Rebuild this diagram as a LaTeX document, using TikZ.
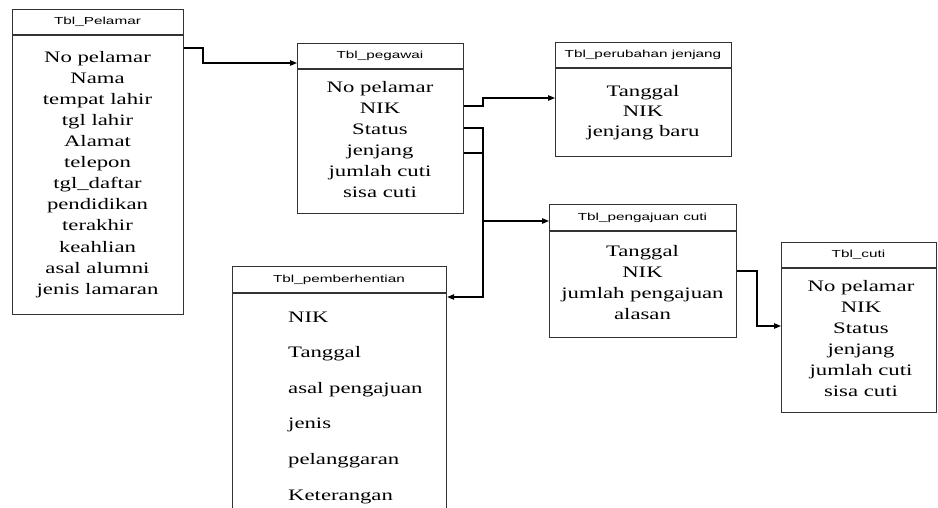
\documentclass[tikz,border=0pt]{standalone}
\usepackage{fontspec}
\setmainfont{Liberation Serif}
\setsansfont{Liberation Sans}
\usepackage{graphicx}
\usetikzlibrary{arrows.meta}
\newcommand{\rowsx}[1]{\scalebox{1.42}[1]{#1}}
\newcommand{\hdsx}[1]{\scalebox{1.50}[1]{#1}}
\begin{document}
\begin{tikzpicture}[x=1pt,y=-1pt,
  tbl/.style={draw=black!80,line width=1.2pt,inner sep=0pt,anchor=north west},
  hdr/.style={font=\sffamily\fontsize{10.2}{12}\selectfont,inner sep=0pt},
  rows/.style={font=\fontsize{16}{21.1}\selectfont,inner sep=0pt},
  conn/.style={line width=1.1pt,-{Triangle[length=7pt,width=5.5pt]}}]

\useasboundingbox (0,0) rectangle (938,507);
\clip (0,0) rectangle (938,507);

% tables
\node[tbl,minimum width=171pt,minimum height=305pt] (pel) at (12,9) {};
\draw[draw=black!80,line width=1.2pt] (pel.west |- 0,35) -- (pel.east |- 0,35);
\node[hdr] (pelh) at (97.5,22) {\hdsx{Tbl\_Pelamar}};
\node[rows] (pelr) at (97.5,174) {\rowsx{\begin{tabular}{@{}c@{}}No pelamar\\Nama\\tempat lahir\\tgl lahir\\Alamat\\telepon\\tgl\_daftar\\pendidikan\\terakhir\\keahlian\\asal alumni\\jenis lamaran\end{tabular}}};

\node[tbl,minimum width=166pt,minimum height=170pt] (peg) at (297,43) {};
\draw[draw=black!80,line width=1.2pt] (peg.west |- 0,69) -- (peg.east |- 0,69);
\node[hdr] (pegh) at (380,56) {\hdsx{Tbl\_pegawai}};
\node[rows] (pegr) at (380,141) {\rowsx{\begin{tabular}{@{}c@{}}No pelamar\\NIK\\Status\\jenjang\\jumlah cuti\\sisa cuti\end{tabular}}};

\node[tbl,minimum width=176pt,minimum height=114pt] (pj) at (555,42) {};
\draw[draw=black!80,line width=1.2pt] (pj.west |- 0,68) -- (pj.east |- 0,68);
\node[hdr] (pjh) at (643,55) {\hdsx{Tbl\_perubahan jenjang}};
\node[rows,font=\fontsize{16}{20}\selectfont] (pjr) at (643,112) {\rowsx{\begin{tabular}{@{}c@{}}Tanggal\\NIK\\jenjang baru\end{tabular}}};

\node[tbl,minimum width=187pt,minimum height=133pt] (pc) at (549,204) {};
\draw[draw=black!80,line width=1.2pt] (pc.west |- 0,231) -- (pc.east |- 0,231);
\node[hdr] (pch) at (642.5,217.5) {\hdsx{Tbl\_pengajuan cuti}};
\node[rows,font=\fontsize{16}{21}\selectfont] (pcr) at (642.5,283.5) {\rowsx{\begin{tabular}{@{}c@{}}Tanggal\\NIK\\jumlah pengajuan\\alasan\end{tabular}}};

\node[tbl,minimum width=155pt,minimum height=170pt] (cuti) at (781,242) {};
\draw[draw=black!80,line width=1.2pt] (cuti.west |- 0,268) -- (cuti.east |- 0,268);
\node[hdr] (cutih) at (858.5,255) {\hdsx{Tbl\_cuti}};
\node[rows] (cutir) at (861,340) {\rowsx{\begin{tabular}{@{}c@{}}No pelamar\\NIK\\Status\\jenjang\\jumlah cuti\\sisa cuti\end{tabular}}};

\node[tbl,minimum width=214pt,minimum height=260pt] (pb) at (232,266) {};
\draw[draw=black!80,line width=1.2pt] (pb.west |- 0,293) -- (pb.east |- 0,293);
\node[hdr] (pbh) at (339,279.5) {\hdsx{Tbl\_pemberhentian}};
\node[rows,font=\fontsize{16}{35.6}\selectfont,anchor=west] (pbr) at (288,404) {\rowsx{\begin{tabular}{@{}l@{}}NIK\\Tanggal\\asal pengajuan\\jenis\\pelanggaran\\Keterangan\end{tabular}}};

% connectors
\draw[conn] (pel.east |- 0,48) -- (203,48) -- (203,63) -- (peg.west |- 0,63);
\draw[conn] (peg.east |- 0,106) -- (483,106) -- (483,98) -- (pj.west |- 0,98);
\draw[conn] (peg.east |- 0,128) -- (483,128) -- (483,221) -- (pc.west |- 0,221);
\draw[conn] (peg.east |- 0,153) -- (483,153) -- (483,297) -- (pb.east |- 0,297);
\draw[conn] (pc.east |- 0,271) -- (757,271) -- (757,326) -- (cuti.west |- 0,326);
\end{tikzpicture}
\end{document}
